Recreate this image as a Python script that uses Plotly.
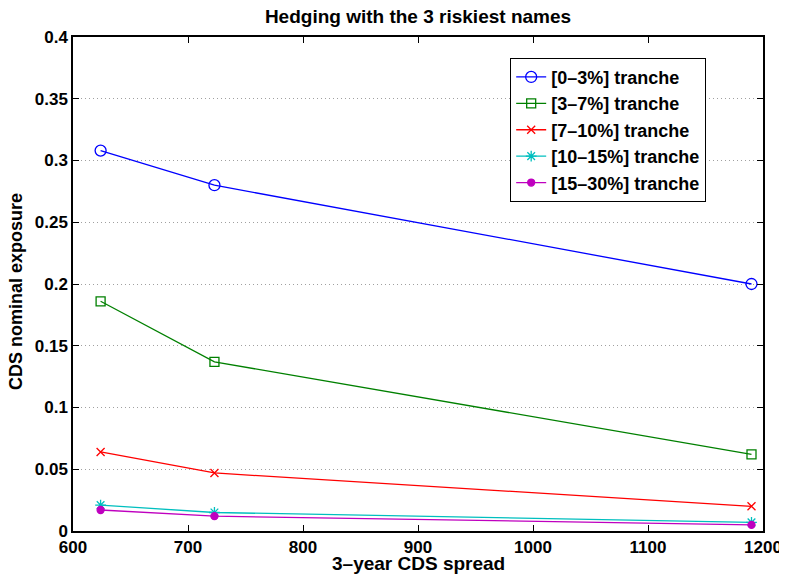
import plotly.graph_objects as go

x_spread = [624, 723, 1190]
t0_3 = [0.308, 0.280, 0.200]
t3_7 = [0.186, 0.137, 0.062]
t7_10 = [0.064, 0.047, 0.020]
t10_15 = [0.021, 0.015, 0.007]
t15_30 = [0.017, 0.012, 0.005]

names = ["[0\u20133%] tranche", "[3\u20137%] tranche", "[7\u201310%] tranche",
         "[10\u201315%] tranche", "[15\u201330%] tranche"]
series = [t0_3, t3_7, t7_10, t10_15, t15_30]
colors = ["#0000ff", "#008000", "#ff0000", "#00bfbf", "#bf00bf"]
symbols = ["circle-open", "square-open", "x-thin-open", "asterisk-open", "circle"]
sizes = [11, 9, 8, 9, 7]

yticks = [0, 0.05, 0.1, 0.15, 0.2, 0.25, 0.3, 0.35, 0.4]
ytick_labels = ["0", "0.05", "0.1", "0.15", "0.2", "0.25", "0.3", "0.35", "0.4"]
xticks = [600, 700, 800, 900, 1000, 1100, 1200]
xtick_labels = ["600", "700", "800", "900", "1000", "1100", "1200"]

FONT = "Liberation Sans, Arial, Helvetica, sans-serif"
W, H = 779, 567

fig = go.Figure()
for n, s, c, sym, sz in zip(names, series, colors, symbols, sizes):
    fig.add_trace(go.Scatter(
        x=x_spread, y=s, mode="lines+markers", name="<b>" + n + "</b>",
        line=dict(color=c, width=1.3),
        marker=dict(symbol=sym, size=sz, color=c, line=dict(color=c, width=1.3)),
    ))

fig.update_layout(
    width=W, height=H,
    margin=dict(l=65, r=24, t=29, b=44, autoexpand=False),
    paper_bgcolor="white", plot_bgcolor="white",
    font=dict(family=FONT, color="black"),
    title=dict(text="<b>Hedging with the 3 riskiest names</b>", x=(65 + 755) / 2 / W, xanchor="center",
               y=1 - 8 / H, yanchor="middle", yref="container",
               font=dict(size=19, family=FONT, color="black")),
    legend=dict(x=0.6336, y=0.958, xanchor="left", yanchor="top",
                bordercolor="black", borderwidth=1, bgcolor="white",
                font=dict(size=18, family=FONT, color="black"),
                tracegroupgap=0, itemwidth=30),
    showlegend=True,
    annotations=[
        dict(text="<b>3\u2013year CDS spread</b>", xref="paper", yref="paper",
             x=0.5, y=-(563 - 531) / 494, xanchor="center", yanchor="middle",
             showarrow=False, font=dict(size=19, family=FONT, color="black")),
        dict(text="<b>CDS nominal exposure</b>", xref="paper", yref="paper",
             x=(16 - 73) / 690, y=(531 - 292) / 494, xanchor="center", yanchor="middle",
             textangle=-90, showarrow=False, font=dict(size=18, family=FONT, color="black")),
    ],
)
fig.update_xaxes(
    range=[600, 1200], tickvals=xticks, ticktext=["<b>" + t + "</b>" for t in xtick_labels],
    showgrid=False, zeroline=False, automargin=False,
    showline=True, linecolor="black", linewidth=1.5, mirror="ticks",
    ticks="inside", ticklen=6, tickcolor="black",
    tickfont=dict(size=17, family=FONT, color="black"),
)
fig.update_yaxes(
    range=[0, 0.4], tickvals=yticks, ticktext=["<b>" + t + "</b>" for t in ytick_labels],
    showgrid=True, gridcolor="#a0a0a0", griddash="1px,3px", gridwidth=1, zeroline=False,
    automargin=False,
    showline=True, linecolor="black", linewidth=1.5, mirror="ticks",
    ticks="inside", ticklen=6, tickcolor="black",
    tickfont=dict(size=17, family=FONT, color="black"),
)
fig.write_html("out.html")
